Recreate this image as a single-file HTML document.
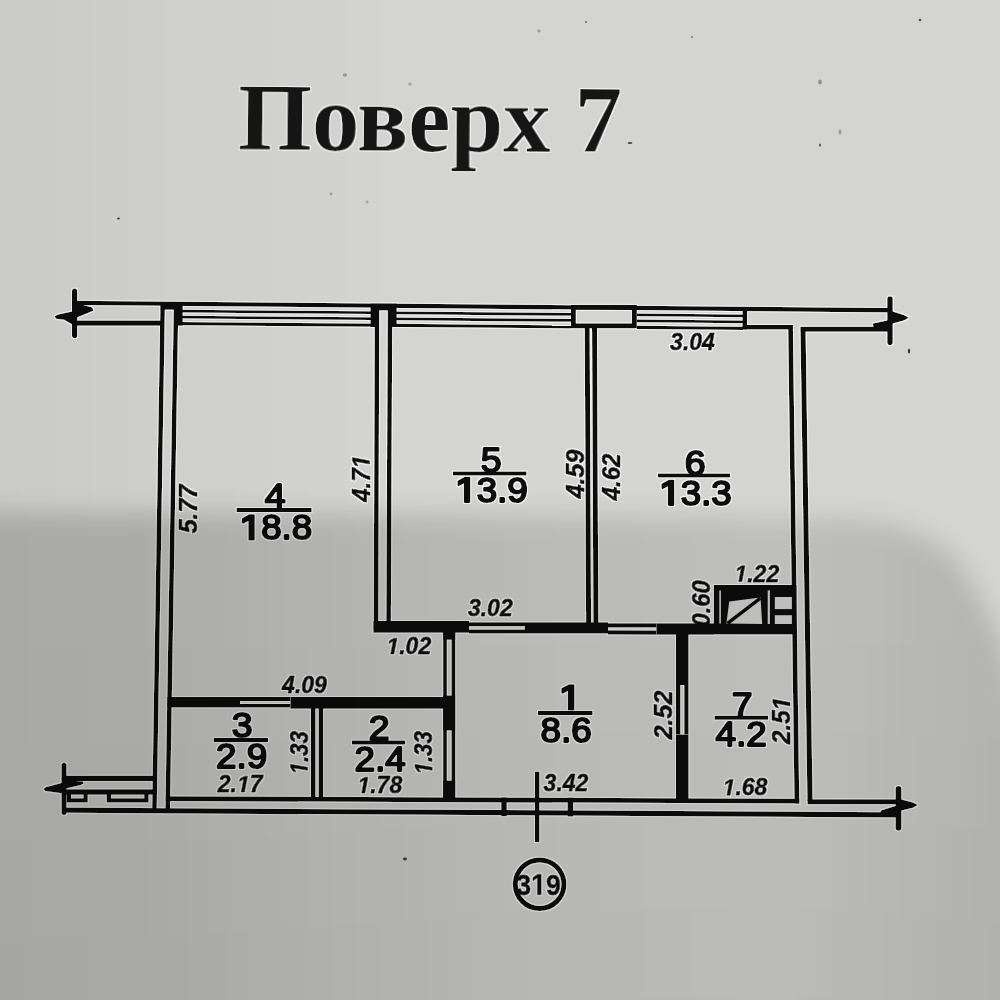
<!DOCTYPE html>
<html><head><meta charset="utf-8"><style>
html,body{margin:0;padding:0;width:1000px;height:1000px;overflow:hidden;background:#d4d4d2}
svg{display:block;position:absolute;left:0;top:0}
text,path.big,path.dim,path.c319{fill:#0d0d0d}
.title{font-family:"Liberation Serif",serif;font-weight:bold;fill:#161616}
.big{font-family:"Liberation Sans",sans-serif;stroke:#0d0d0d;stroke-width:2.2px;stroke-linejoin:round}
.dim{font-family:"Liberation Sans",sans-serif;font-weight:bold;font-style:italic;stroke:#0d0d0d;stroke-width:0.8px;stroke-linejoin:round}
.c319{font-family:"Liberation Sans",sans-serif;font-weight:bold;stroke:#0d0d0d;stroke-width:0.8px}
</style></head><body>
<svg width="1000" height="1000" viewBox="0 0 1000 1000">
<defs>
<filter id="halo" x="-5%" y="-5%" width="110%" height="110%"><feMorphology in="SourceAlpha" operator="dilate" radius="1.4" result="d"/><feGaussianBlur in="d" stdDeviation="0.5" result="db"/><feFlood flood-color="#ffffff" flood-opacity="0.75"/><feComposite in2="db" operator="in" result="h"/><feMerge><feMergeNode in="h"/><feMergeNode in="SourceGraphic"/></feMerge></filter>
<filter id="blur" x="-20%" y="-20%" width="140%" height="140%"><feGaussianBlur stdDeviation="12"/></filter>
<linearGradient id="shg" x1="0" y1="0" x2="1000" y2="0" gradientUnits="userSpaceOnUse">
<stop offset="0" stop-color="#000" stop-opacity="0.20"/><stop offset="0.15" stop-color="#000" stop-opacity="0.19"/><stop offset="0.3" stop-color="#000" stop-opacity="0.16"/><stop offset="0.55" stop-color="#000" stop-opacity="0.12"/><stop offset="0.78" stop-color="#000" stop-opacity="0.10"/><stop offset="1" stop-color="#000" stop-opacity="0.15"/>
</linearGradient>
<linearGradient id="shv" x1="0" y1="600" x2="0" y2="1000" gradientUnits="userSpaceOnUse">
<stop offset="0" stop-color="#000" stop-opacity="0"/><stop offset="1" stop-color="#000" stop-opacity="0.02"/>
</linearGradient>
<linearGradient id="vig" x1="-60" y1="0" x2="400" y2="0" gradientUnits="userSpaceOnUse">
<stop offset="0" stop-color="#000" stop-opacity="0.05"/><stop offset="1" stop-color="#000" stop-opacity="0"/>
</linearGradient>
</defs>
<rect width="1000" height="1000" fill="#d4d4d2"/>
<ellipse cx="118.5" cy="218.5" rx="1.3" ry="1.1" fill="#3a3a3a"/><ellipse cx="345" cy="75" rx="2.2" ry="1.8" fill="#9a9a98"/><ellipse cx="410" cy="84" rx="1.8" ry="1.6" fill="#a4a4a2"/><ellipse cx="331" cy="194" rx="1.6" ry="1.4" fill="#a4a4a2"/><ellipse cx="367" cy="202" rx="1.6" ry="1.5" fill="#a8a8a6"/><ellipse cx="920" cy="20" rx="1.3" ry="1.2" fill="#4a4a4a"/><ellipse cx="820" cy="82" rx="1.8" ry="2.4" fill="#8e8e8c"/><ellipse cx="840" cy="132" rx="1.4" ry="2.6" fill="#9a9a98"/><ellipse cx="820" cy="145" rx="1.0" ry="1.6" fill="#555"/><ellipse cx="630" cy="143" rx="2.4" ry="0.9" fill="#444"/><ellipse cx="586" cy="22" rx="1.0" ry="1.0" fill="#666"/><ellipse cx="539" cy="31" rx="1.6" ry="1.4" fill="#9c9c9a"/><ellipse cx="909" cy="351" rx="1.1" ry="2.6" fill="#333"/><ellipse cx="405" cy="859" rx="2.0" ry="1.4" fill="#4a4038"/><ellipse cx="692" cy="37" rx="1.2" ry="1.0" fill="#888"/>
<g filter="url(#halo)">
<g>
<line x1="72" y1="302.9" x2="892" y2="310.2" stroke="#0d0d0d" stroke-width="4.4"/>
<line x1="74" y1="323.2" x2="164" y2="323.2" stroke="#0d0d0d" stroke-width="5.2"/>
<line x1="74.6" y1="291" x2="74.6" y2="335.4" stroke="#0d0d0d" stroke-width="5.2" stroke-linecap="round"/>
<polygon points="72,302.5 78,303.5 92.4,307.6 93.4,310.8 77,317.6 77,321 78,325.6 74,325.4 64,319.8 56,318.8 54.6,316.2 58,314.4 72,311.6" fill="#0d0d0d"/>
<line x1="182" y1="311.1" x2="371" y2="312.7" stroke="#0d0d0d" stroke-width="2.8"/>
<line x1="182" y1="317.1" x2="371" y2="318.7" stroke="#0d0d0d" stroke-width="2.8"/>
<line x1="182" y1="323.6" x2="371" y2="325.2" stroke="#0d0d0d" stroke-width="3.2"/>
<line x1="396" y1="312.9" x2="571" y2="314.4" stroke="#0d0d0d" stroke-width="2.8"/>
<line x1="396" y1="318.9" x2="571" y2="320.4" stroke="#0d0d0d" stroke-width="2.8"/>
<line x1="396" y1="325.4" x2="571" y2="326.9" stroke="#0d0d0d" stroke-width="3.2"/>
<line x1="637" y1="314.9" x2="743" y2="315.8" stroke="#0d0d0d" stroke-width="2.8"/>
<line x1="637" y1="320.9" x2="743" y2="321.8" stroke="#0d0d0d" stroke-width="2.8"/>
<line x1="637" y1="327.4" x2="743" y2="328.3" stroke="#0d0d0d" stroke-width="3.2"/>
<polygon points="160.2,302 182.8,302 182.8,325.8 178,325.8 178,309.8 160.2,309.8" fill="#0d0d0d"/>
<line x1="162.6" y1="309" x2="154.4" y2="812" stroke="#0d0d0d" stroke-width="4.6"/>
<line x1="176" y1="309" x2="167.7" y2="809" stroke="#0d0d0d" stroke-width="4.6"/>
<polygon points="370.4,303.6 396.8,303.6 396.8,327 391.6,327 391.6,310.6 375,310.6 375,327 370.4,327" fill="#0d0d0d"/>
<line x1="377" y1="310" x2="376" y2="630" stroke="#0d0d0d" stroke-width="4.6"/>
<line x1="390" y1="310" x2="388.6" y2="623" stroke="#0d0d0d" stroke-width="4.6"/>
<rect x="573.4" y="307.4" width="61" height="18.4" fill="none" stroke="#0d0d0d" stroke-width="5"/>
<line x1="587.2" y1="325" x2="588.6" y2="626" stroke="#0d0d0d" stroke-width="5.0"/>
<line x1="594.5" y1="325" x2="595.9" y2="626" stroke="#0d0d0d" stroke-width="5.0"/>
<line x1="744.8" y1="307" x2="744.8" y2="329.5" stroke="#0d0d0d" stroke-width="4.6"/>
<line x1="742.5" y1="327.2" x2="792.8" y2="327.2" stroke="#0d0d0d" stroke-width="4.6"/>
<line x1="800.7" y1="329.2" x2="888" y2="329.2" stroke="#0d0d0d" stroke-width="5.0"/>
<line x1="790.5" y1="325" x2="796.9" y2="803.5" stroke="#0d0d0d" stroke-width="4.8"/>
<line x1="803" y1="327" x2="810" y2="801" stroke="#0d0d0d" stroke-width="5.2"/>
<line x1="807.5" y1="801.8" x2="898" y2="801.8" stroke="#0d0d0d" stroke-width="5.0"/>
<line x1="890" y1="299" x2="890" y2="342.2" stroke="#0d0d0d" stroke-width="5.6" stroke-linecap="round"/>
<polygon points="888,308.6 892.8,311.4 904,315 908.8,317.8 904,320.6 892.8,323.6 889,327.2 873.4,327.2 872.8,323.4 888,320.2" fill="#0d0d0d"/>
<line x1="62" y1="810.2" x2="898" y2="814.9" stroke="#0d0d0d" stroke-width="5.2"/>
<line x1="165.8" y1="798.7" x2="799.3" y2="801.2" stroke="#0d0d0d" stroke-width="4.8"/>
<polygon points="501.2,797.4 506.8,797.4 506.8,816.2 501.2,816.2" fill="#0d0d0d"/>
<polygon points="567.6,797.6 573.2,797.6 573.2,816.5 567.6,816.5" fill="#0d0d0d"/>
<line x1="537.2" y1="771.7" x2="537.2" y2="842" stroke="#0d0d0d" stroke-width="4.4"/>
<line x1="898.5" y1="789" x2="898.5" y2="827.8" stroke="#0d0d0d" stroke-width="5.8" stroke-linecap="round"/>
<polygon points="898,799 901.6,799.5 913,802.6 917.8,805 913,807.8 901.6,810.6 898,813 880,813 881.5,810.2 897,805.6" fill="#0d0d0d"/>
<line x1="64" y1="765.3" x2="64" y2="812.6" stroke="#0d0d0d" stroke-width="5.0" stroke-linecap="round"/>
<line x1="62" y1="778.4" x2="156" y2="778.4" stroke="#0d0d0d" stroke-width="5.4"/>
<line x1="62" y1="792" x2="156" y2="792" stroke="#0d0d0d" stroke-width="5.4"/>
<path d="M68.8 792V800.4H85.6V792M108.8 792V800.4H146.4V792" fill="none" stroke="#0d0d0d" stroke-width="4.4"/>
<polygon points="62,776 68,780.6 82.9,781.6 83.6,783.5 80.8,784.9 66,788.6 61.5,793.3 45.2,790.9 43.6,789 45.5,787.3 63.3,782.4 61.5,780" fill="#0d0d0d"/>
<polygon points="373.3,621 469,621 469,632.8 373.3,632.8" fill="#0d0d0d"/>
<line x1="469" y1="624.2" x2="525" y2="624.2" stroke="#0d0d0d" stroke-width="4.0"/>
<line x1="469" y1="631.4" x2="525" y2="631.4" stroke="#0d0d0d" stroke-width="4.0"/>
<polygon points="524.8,622.2 608,622.2 608,633.6 524.8,633.6" fill="#0d0d0d"/>
<line x1="608" y1="625.3" x2="656.4" y2="625.3" stroke="#0d0d0d" stroke-width="4.2"/>
<line x1="608" y1="632.4" x2="656.4" y2="632.6" stroke="#0d0d0d" stroke-width="4.2"/>
<polygon points="656.3,623.3 714,623.3 714,634.8 656.3,634.8" fill="#0d0d0d"/>
<line x1="445" y1="630" x2="445" y2="799" stroke="#0d0d0d" stroke-width="3.8"/>
<line x1="453.4" y1="630" x2="453.4" y2="799" stroke="#0d0d0d" stroke-width="3.8"/>
<polygon points="443.1,627.8 455.2,627.8 455.2,639.8 443.1,639.8" fill="#0d0d0d"/>
<polygon points="443.1,695.4 455.2,695.4 455.2,730.5 443.1,730.5" fill="#0d0d0d"/>
<polygon points="443.1,780.5 455.2,780.5 455.2,800 443.1,800" fill="#0d0d0d"/>
<polygon points="167.2,697 240,697 240,707.6 167.2,707.6" fill="#0d0d0d"/>
<line x1="240" y1="699" x2="290.4" y2="699" stroke="#0d0d0d" stroke-width="4.0"/>
<line x1="240" y1="705.8" x2="290.4" y2="705.8" stroke="#0d0d0d" stroke-width="3.6"/>
<polygon points="290.4,697 455,697 455,708.8 290.4,708.8" fill="#0d0d0d"/>
<line x1="313.2" y1="703" x2="313.2" y2="801" stroke="#0d0d0d" stroke-width="4.4"/>
<line x1="320.9" y1="703" x2="320.9" y2="801" stroke="#0d0d0d" stroke-width="4.4"/>
<polygon points="676,630 688.6,630 688.6,685 676,685" fill="#0d0d0d"/>
<line x1="678.2" y1="685" x2="678.2" y2="734.5" stroke="#0d0d0d" stroke-width="4.4"/>
<line x1="686.4" y1="685" x2="686.4" y2="734.5" stroke="#0d0d0d" stroke-width="4.4"/>
<polygon points="676,734.5 688.6,734.5 688.6,801 676,801" fill="#0d0d0d"/>
<polygon points="713.8,584.9 796.6,584.9 796.6,634.4 713.8,634.4" fill="#0d0d0d"/>
<polygon points="719.3,590.4 720.9,590.4 720.9,623.4 719.3,623.4" fill="#d4d4d2"/>
<polygon points="729.2,601.4 760.5,597.5 762.2,624 726.4,623.4" fill="#d4d4d2"/>
<line x1="727.5" y1="623.4" x2="760.5" y2="598.1" stroke="#0d0d0d" stroke-width="3.3"/>
<polygon points="767.7,590.4 769.9,590.4 769.9,624 767.7,624" fill="#d4d4d2"/>
<polygon points="774.8,597 791.9,597 791.9,609.1 774.8,609.1" fill="#d4d4d2"/>
<polygon points="774.8,615.2 791.9,615.2 791.9,624 774.8,624" fill="#d4d4d2"/>
</g>
<g transform="translate(275 507.5) scale(1.07 1)"><text x="-9.7" y="0" class="big" font-size="35">4</text></g>
<g transform="translate(276.5 539.4) scale(1.05 1)"><text x="-34.1" y="0" class="big" font-size="35"> 8.8</text><path d="M-25.69 0.00L-25.69 -20.34L-31.84 -16.92L-31.84 -20.51L-25.34 -24.08L-21.76 -24.08L-21.76 0.00Z" class="big"/></g>
<line x1="236.6" y1="510" x2="311.6" y2="510" stroke="#0d0d0d" stroke-width="4"/>
<g transform="translate(491 471.5) scale(1.07 1)"><text x="-9.7" y="0" class="big" font-size="35">5</text></g>
<g transform="translate(492 501.9) scale(1.05 1)"><text x="-34.1" y="0" class="big" font-size="35"> 3.9</text><path d="M-25.69 0.00L-25.69 -20.34L-31.84 -16.92L-31.84 -20.51L-25.34 -24.08L-21.76 -24.08L-21.76 0.00Z" class="big"/></g>
<line x1="453" y1="473.5" x2="526.5" y2="473.5" stroke="#0d0d0d" stroke-width="4"/>
<g transform="translate(695 474.5) scale(1.07 1)"><text x="-9.7" y="0" class="big" font-size="35">6</text></g>
<g transform="translate(696 504.9) scale(1.05 1)"><text x="-34.1" y="0" class="big" font-size="35"> 3.3</text><path d="M-25.69 0.00L-25.69 -20.34L-31.84 -16.92L-31.84 -20.51L-25.34 -24.08L-21.76 -24.08L-21.76 0.00Z" class="big"/></g>
<line x1="658" y1="475.5" x2="730" y2="475.5" stroke="#0d0d0d" stroke-width="4"/>
<g transform="translate(242 736.5) scale(1.07 1)"><text x="-9.7" y="0" class="big" font-size="35">3</text></g>
<g transform="translate(241.5 767.8) scale(1.05 1)"><text x="-24.3" y="0" class="big" font-size="35">2.9</text></g>
<line x1="213.7" y1="740" x2="268" y2="740" stroke="#0d0d0d" stroke-width="4"/>
<g transform="translate(379 740.3) scale(1.07 1)"><text x="-9.7" y="0" class="big" font-size="35">2</text></g>
<g transform="translate(380 771.4) scale(1.05 1)"><text x="-24.3" y="0" class="big" font-size="35">2.4</text></g>
<line x1="352" y1="742.4" x2="405" y2="742.4" stroke="#0d0d0d" stroke-width="4"/>
<g transform="translate(570.5 709.5) scale(1.07 1)"><text x="-9.7" y="0" class="big" font-size="35"> </text><path d="M-1.36 0.00L-1.36 -20.34L-7.51 -16.92L-7.51 -20.51L-1.02 -24.08L2.57 -24.08L2.57 0.00Z" class="big"/></g>
<g transform="translate(566 742.4) scale(1.05 1)"><text x="-24.3" y="0" class="big" font-size="35">8.6</text></g>
<line x1="538" y1="713" x2="592.5" y2="713" stroke="#0d0d0d" stroke-width="4"/>
<g transform="translate(742 716.5) scale(1.07 1)"><text x="-9.7" y="0" class="big" font-size="35">7</text></g>
<g transform="translate(741 746.4) scale(1.05 1)"><text x="-24.3" y="0" class="big" font-size="35">4.2</text></g>
<line x1="714.6" y1="717.7" x2="768" y2="717.7" stroke="#0d0d0d" stroke-width="4"/>
<g transform="translate(692.5 350)"><text x="-22.4" y="0" class="dim" font-size="23">3.04</text></g>
<g transform="translate(490.3 615.6)"><text x="-22.4" y="0" class="dim" font-size="23">3.02</text></g>
<g transform="translate(408.8 654)"><text x="-22.4" y="0" class="dim" font-size="23"> .02</text><path d="M-18.11 0.00L-15.60 -12.94L-19.88 -10.53L-19.35 -13.25L-14.90 -15.82L-11.87 -15.82L-14.96 0.00Z" class="dim"/></g>
<g transform="translate(304.5 693)"><text x="-22.4" y="0" class="dim" font-size="23">4.09</text></g>
<g transform="translate(240.2 792)"><text x="-22.4" y="0" class="dim" font-size="23">2. 7</text><path d="M1.07 0.00L3.58 -12.94L-0.70 -10.53L-0.17 -13.25L4.28 -15.82L7.31 -15.82L4.22 0.00Z" class="dim"/></g>
<g transform="translate(379.8 793)"><text x="-22.4" y="0" class="dim" font-size="23"> .78</text><path d="M-18.11 0.00L-15.60 -12.94L-19.88 -10.53L-19.35 -13.25L-14.90 -15.82L-11.87 -15.82L-14.96 0.00Z" class="dim"/></g>
<g transform="translate(566 791.2)"><text x="-22.4" y="0" class="dim" font-size="23">3.42</text></g>
<g transform="translate(745 795.2)"><text x="-22.4" y="0" class="dim" font-size="23"> .68</text><path d="M-18.11 0.00L-15.60 -12.94L-19.88 -10.53L-19.35 -13.25L-14.90 -15.82L-11.87 -15.82L-14.96 0.00Z" class="dim"/></g>
<g transform="translate(756.8 581.5)"><text x="-22.4" y="0" class="dim" font-size="23"> .22</text><path d="M-18.11 0.00L-15.60 -12.94L-19.88 -10.53L-19.35 -13.25L-14.90 -15.82L-11.87 -15.82L-14.96 0.00Z" class="dim"/></g>
<g transform="translate(197 509) rotate(-90)"><text x="-24.3" y="0" class="dim" font-size="25">5.77</text></g>
<g transform="translate(369.5 478.5) rotate(-90) scale(0.96 1)"><text x="-24.3" y="0" class="dim" font-size="25">4.7 </text><path d="M15.06 0.00L17.80 -14.06L13.15 -11.45L13.72 -14.40L18.55 -17.20L21.85 -17.20L18.49 0.00Z" class="dim"/></g>
<g transform="translate(583.5 474) rotate(-90)"><text x="-24.3" y="0" class="dim" font-size="25">4.59</text></g>
<g transform="translate(619.5 477) rotate(-90) scale(0.96 1)"><text x="-24.3" y="0" class="dim" font-size="25">4.62</text></g>
<g transform="translate(307.6 752.8) rotate(-90) scale(0.89 1)"><text x="-24.3" y="0" class="dim" font-size="25"> .33</text><path d="M-19.69 0.00L-16.96 -14.06L-21.61 -11.45L-21.03 -14.40L-16.20 -17.20L-12.90 -17.20L-16.26 0.00Z" class="dim"/></g>
<g transform="translate(432.2 752.8) rotate(-90) scale(0.89 1)"><text x="-24.3" y="0" class="dim" font-size="25"> .33</text><path d="M-19.69 0.00L-16.96 -14.06L-21.61 -11.45L-21.03 -14.40L-16.20 -17.20L-12.90 -17.20L-16.26 0.00Z" class="dim"/></g>
<g transform="translate(672.4 715) rotate(-90)"><text x="-24.3" y="0" class="dim" font-size="25">2.52</text></g>
<g transform="translate(790 720.5) rotate(-90) scale(0.97 1)"><text x="-24.3" y="0" class="dim" font-size="25">2.5 </text><path d="M15.06 0.00L17.80 -14.06L13.15 -11.45L13.72 -14.40L18.55 -17.20L21.85 -17.20L18.49 0.00Z" class="dim"/></g>
<g transform="translate(710 603.5) rotate(-90) scale(0.95 1)"><text x="-24.3" y="0" class="dim" font-size="25">0.60</text></g>
<text x="238" y="151" class="title" font-size="95" transform="rotate(0.4 430 120)">Поверх 7</text>
<circle cx="539.6" cy="884.2" r="24.3" fill="none" stroke="#0d0d0d" stroke-width="5"/>
<g transform="translate(538.6 894.8) scale(0.89 1)"><text x="-25" y="0" class="c319" font-size="30">3 9</text><path d="M-1.34 0.00L-1.34 -17.14L-6.29 -14.05L-6.29 -17.29L-1.12 -20.64L2.78 -20.64L2.78 0.00Z" class="c319"/></g>
</g>
<path d="M-60 512 L300 513 L850 519 Q935 527 962 568 Q985 605 1002 642 L1030 760 L1060 1060 L-60 1060 Z" fill="url(#shg)" filter="url(#blur)"/>
<rect x="0" y="600" width="1000" height="400" fill="url(#shv)"/>
<rect x="-60" y="-60" width="460" height="572" fill="url(#vig)" filter="url(#blur)"/>
</svg>
</body></html>
